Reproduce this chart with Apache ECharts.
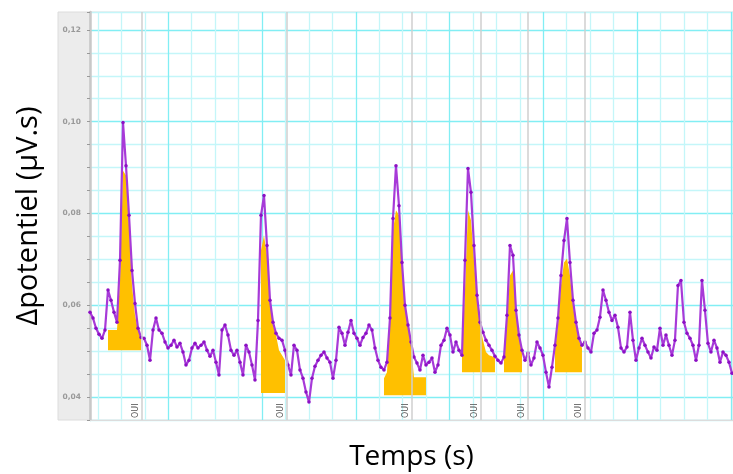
<!DOCTYPE html>
<html><head><meta charset="utf-8">
<script src="https://cdn.jsdelivr.net/npm/echarts@6/dist/echarts.min.js"></script>
<style>html,body{margin:0;padding:0;background:#fff}#c{width:733px;height:474px}</style>
</head><body><div id="c"></div>
<script>
// time between two samples (s)
const sampleStep = 0.32;
// Δpotentiel (µV.s), one value per sample
const potential = [
0.0585,0.0572,0.0550,0.0537,0.0528,0.0546,0.0633,0.0611,0.0585,0.0563,
0.0698,0.0998,0.0904,0.0796,0.0676,0.0604,0.0550,0.0530,0.0528,0.0513,
0.0480,0.0546,0.0572,0.0546,0.0539,0.0520,0.0507,0.0513,0.0524,0.0509,
0.0517,0.0498,0.0470,0.0480,0.0507,0.0517,0.0507,0.0513,0.0520,0.0502,
0.0489,0.0502,0.0476,0.0448,0.0546,0.0557,0.0535,0.0502,0.0491,0.0502,
0.0476,0.0448,0.0513,0.0498,0.0470,0.0437,0.0567,0.0796,0.0839,0.0730,
0.0611,0.0563,0.0539,0.0528,0.0524,0.0502,0.0470,0.0448,0.0513,0.0502,
0.0459,0.0441,0.0411,0.0389,0.0441,0.0467,0.0480,0.0491,0.0498,0.0485,
0.0476,0.0441,0.0480,0.0552,0.0539,0.0513,0.0541,0.0567,0.0539,0.0528,
0.0513,0.0530,0.0539,0.0557,0.0546,0.0507,0.0480,0.0465,0.0459,0.0476,
0.0572,0.0789,0.0904,0.0817,0.0693,0.0600,0.0557,0.0520,0.0487,0.0474,
0.0459,0.0491,0.0470,0.0476,0.0485,0.0454,0.0470,0.0513,0.0524,0.0550,
0.0535,0.0498,0.0520,0.0502,0.0491,0.0698,0.0898,0.0846,0.0730,0.0622,
0.0563,0.0541,0.0524,0.0513,0.0502,0.0489,0.0480,0.0474,0.0487,0.0578,
0.0730,0.0709,0.0589,0.0535,0.0502,0.0480,0.0496,0.0470,0.0485,0.0520,
0.0507,0.0491,0.0454,0.0422,0.0465,0.0513,0.0572,0.0665,0.0741,0.0789,
0.0693,0.0611,0.0563,0.0528,0.0513,0.0520,0.0507,0.0498,0.0539,0.0546,
0.0574,0.0633,0.0611,0.0585,0.0567,0.0578,0.0552,0.0507,0.0498,0.0509,
0.0585,0.0524,0.0480,0.0507,0.0528,0.0513,0.0498,0.0485,0.0509,0.0502,
0.0550,0.0513,0.0535,0.0513,0.0491,0.0524,0.0643,0.0654,0.0563,0.0539,
0.0528,0.0513,0.0480,0.0513,0.0654,0.0589,0.0517,0.0498,0.0524,0.0507,
0.0476,0.0498,0.0491,0.0476,0.0452
];
// integrated areas (yellow): first sample index, baseline, upper values
const fill1Start = 6,   fill1Base = 0.0502, fill1 = [0.0546,0.0546,0.0546,0.0546,0.0654,0.0893,0.0883,0.0774,0.0643,0.0578,0.0546,0.0530];
const fill2Start = 57,  fill2Base = 0.0409, fill2 = [0.0720,0.0752,0.0709,0.0611,0.0557,0.0535,0.0502,0.0491,0.0480];
const fill3Start = 98,  fill3Base = 0.0404, fill3 = [0.0441,0.0454,0.0567,0.0763,0.0807,0.0796,0.0687,0.0600,0.0557,0.0513,0.0443,0.0443,0.0443,0.0443,0.0443];
const fill4Start = 124, fill4Base = 0.0454, fill4 = [0.0489,0.0633,0.0807,0.0785,0.0698,0.0611,0.0557,0.0524,0.0498,0.0491,0.0489,0.0485];
const fill5Start = 138, fill5Base = 0.0454, fill5 = [0.0485,0.0567,0.0665,0.0676,0.0589,0.0535,0.0502];
const fill6Start = 155, fill6Base = 0.0454, fill6 = [0.0502,0.0557,0.0643,0.0693,0.0702,0.0665,0.0600,0.0557,0.0524,0.0507];
// event markers
const eventTimes = [5.55, 21.01, 34.35, 41.71, 46.72, 52.8];
const eventLabels = ['OUI','OUI','OUI','OUI','OUI','OUI'];
// y tick labels
const yTickValues = [0.04, 0.06, 0.08, 0.10, 0.12];
const yTickLabels = ['0,04','0,06','0,08','0,10','0,12'];

const xMax = 68.59;
const gridTicks = [];
for (let t = 0.85; t < xMax; t += 2.5) gridTicks.push(+t.toFixed(2));

const minorCyan = '#c4f6f9', majorCyan = '#82eef4';
const fills = [
  [fill1Start, fill1Base, fill1], [fill2Start, fill2Base, fill2], [fill3Start, fill3Base, fill3],
  [fill4Start, fill4Base, fill4], [fill5Start, fill5Base, fill5], [fill6Start, fill6Base, fill6]
];
const series = fills.map(([s, b, arr]) => ({
  type: 'line', z: 2, silent: true, symbol: 'none',
  data: arr.map((v, j) => [(s + j) * sampleStep, v]),
  lineStyle: {width: 0},
  areaStyle: {color: '#ffc000', opacity: 1, origin: b}
}));
series.push({
  type: 'line', z: 1, silent: true, data: [],
  markLine: {
    symbol: 'none', silent: true, animation: false,
    lineStyle: {color: '#cfcfcf', width: 1.5, type: 'solid'},
    label: {show: true, position: 'insideStartTop', formatter: '{b}', fontSize: 8, color: '#555', distance: 2, fontFamily: 'DejaVu Sans'},
    data: eventTimes.map((t, i) => ({xAxis: t, name: eventLabels[i]}))
  }
});
series.push({
  type: 'line', z: 3, silent: true,
  data: potential.map((v, i) => [i * sampleStep, v]),
  showAllSymbol: true, symbol: 'circle', symbolSize: 3.5,
  itemStyle: {color: '#8c10c4'},
  lineStyle: {color: '#a73ad8', width: 2.2}
});

const chart = echarts.init(document.getElementById('c'));
chart.setOption({
  animation: false,
  backgroundColor: '#fff',
  graphic: [{type: 'rect', z: -100, silent: true, shape: {x: 58, y: 12, width: 32, height: 408}, style: {fill: '#ececec', stroke: '#dcdcdc', lineWidth: 1}}],
  grid: {left: 90, right: 0, top: 12, bottom: 54, show: true, borderColor: '#dcdcdc', borderWidth: 1, containLabel: false, outerBoundsMode: 'none'},
  xAxis: {
    type: 'value', min: 0, max: xMax, interval: 2.5,
    name: 'Temps (s)', nameLocation: 'middle', nameGap: 23,
    nameTextStyle: {fontSize: 28, color: '#000', fontFamily: 'Open Sans'},
    axisLine: {show: true, lineStyle: {color: '#dcdcdc'}},
    axisTick: {show: false, customValues: gridTicks},
    axisLabel: {show: false},
    splitLine: {show: true, lineStyle: {color: [minorCyan, minorCyan, minorCyan, majorCyan], width: 1.3}}
  },
  yAxis: {
    type: 'value', min: 0.035, max: 0.1239, interval: 0.005,
    name: 'Δpotentiel (µV.s)', nameLocation: 'middle', nameGap: 47, nameRotate: 90,
    nameTextStyle: {fontSize: 29, color: '#000', fontFamily: 'Open Sans'},
    axisLine: {show: true, lineStyle: {color: '#c8c8c8', width: 2.5}},
    axisTick: {show: true, length: 3, lineStyle: {color: '#999'}},
    axisLabel: {
      margin: 9, fontSize: 7.5, fontWeight: 'bold', color: '#999', fontFamily: 'DejaVu Sans',
      formatter: v => { const k = yTickValues.findIndex(t => Math.abs(t - v) < 1e-6); return k >= 0 ? yTickLabels[k] : ''; }
    },
    splitLine: {show: true, lineStyle: {color: [minorCyan, majorCyan, minorCyan, minorCyan], width: 1.3}}
  },
  series: series
});
</script></body></html>
